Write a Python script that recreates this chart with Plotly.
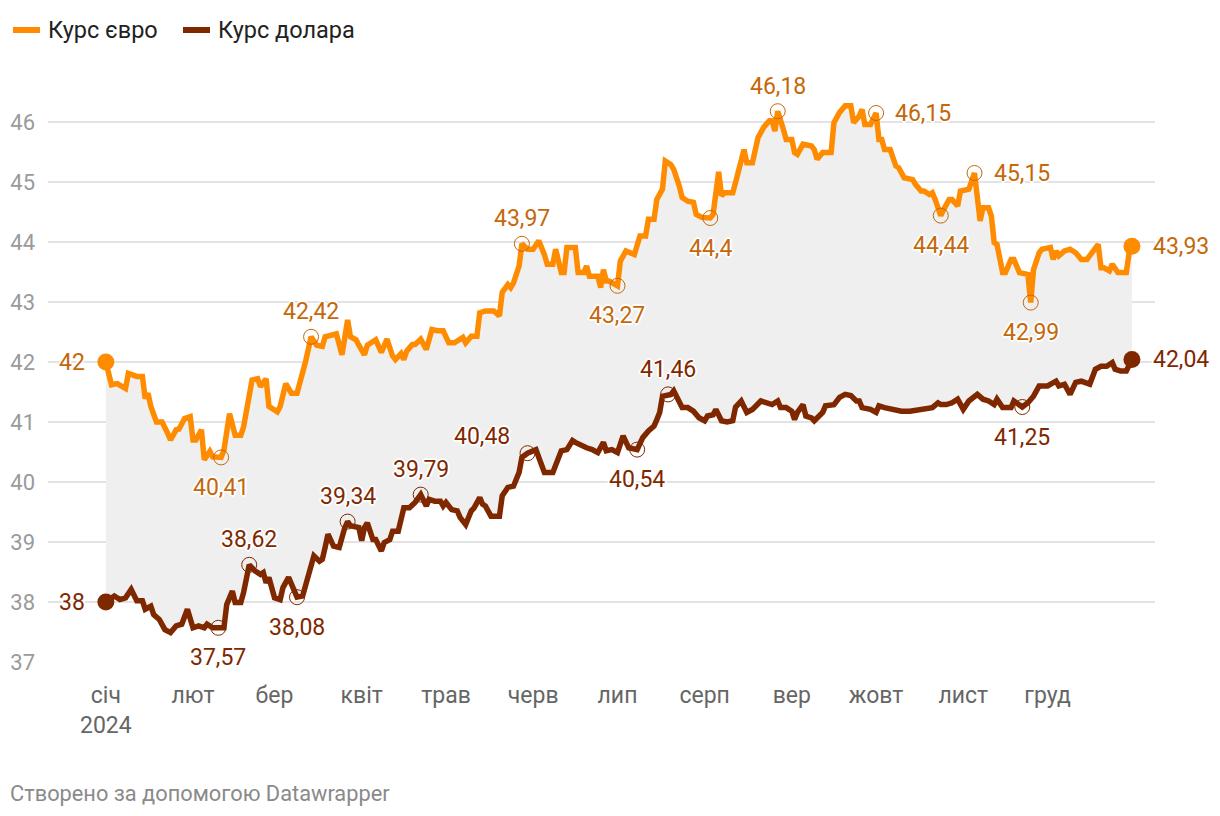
import plotly.graph_objects as go

# ---------------- data ----------------
euro_dates = [
    "2024-01-01", "2024-01-03", "2024-01-05", "2024-01-08", "2024-01-09", "2024-01-12", "2024-01-14",
    "2024-01-15", "2024-01-16", "2024-01-17", "2024-01-19", "2024-01-21", "2024-01-23", "2024-01-24",
    "2024-01-26", "2024-01-27", "2024-01-29", "2024-01-31", "2024-02-01", "2024-02-02", "2024-02-04",
    "2024-02-05", "2024-02-07", "2024-02-08", "2024-02-11", "2024-02-12", "2024-02-14", "2024-02-16",
    "2024-02-18", "2024-02-19", "2024-02-22", "2024-02-24", "2024-02-25", "2024-02-27", "2024-02-28",
    "2024-03-02", "2024-03-03", "2024-03-05", "2024-03-07", "2024-03-09", "2024-03-12", "2024-03-14",
    "2024-03-16", "2024-03-18", "2024-03-19", "2024-03-22", "2024-03-23", "2024-03-25", "2024-03-26",
    "2024-03-27", "2024-03-28", "2024-03-30", "2024-03-31", "2024-04-02", "2024-04-03", "2024-04-06",
    "2024-04-08", "2024-04-10", "2024-04-12", "2024-04-13", "2024-04-15", "2024-04-16", "2024-04-17",
    "2024-04-19", "2024-04-20", "2024-04-22", "2024-04-24", "2024-04-26", "2024-04-28", "2024-04-30",
    "2024-05-02", "2024-05-04", "2024-05-05", "2024-05-07", "2024-05-08", "2024-05-10", "2024-05-12",
    "2024-05-13", "2024-05-15", "2024-05-17", "2024-05-18", "2024-05-20", "2024-05-21", "2024-05-23",
    "2024-05-24", "2024-05-25", "2024-05-27", "2024-05-28", "2024-05-30", "2024-06-01", "2024-06-03",
    "2024-06-05", "2024-06-06", "2024-06-08", "2024-06-09", "2024-06-11", "2024-06-12", "2024-06-13",
    "2024-06-16", "2024-06-17", "2024-06-19", "2024-06-20", "2024-06-21", "2024-06-24", "2024-06-25",
    "2024-06-26", "2024-06-27", "2024-06-28", "2024-07-01", "2024-07-02", "2024-07-03", "2024-07-04",
    "2024-07-07", "2024-07-08", "2024-07-09", "2024-07-11", "2024-07-12", "2024-07-14", "2024-07-15",
    "2024-07-17", "2024-07-18", "2024-07-20", "2024-07-21", "2024-07-23", "2024-07-24", "2024-07-26",
    "2024-07-28", "2024-07-29", "2024-07-31", "2024-08-03", "2024-08-04", "2024-08-06", "2024-08-07",
    "2024-08-08", "2024-08-11", "2024-08-12", "2024-08-13", "2024-08-15", "2024-08-16", "2024-08-18",
    "2024-08-20", "2024-08-22", "2024-08-24", "2024-08-25", "2024-08-26", "2024-08-27", "2024-08-29",
    "2024-08-30", "2024-09-01", "2024-09-02", "2024-09-03", "2024-09-05", "2024-09-08", "2024-09-09",
    "2024-09-10", "2024-09-12", "2024-09-15", "2024-09-16", "2024-09-18", "2024-09-20", "2024-09-22",
    "2024-09-23", "2024-09-25", "2024-09-26", "2024-09-27", "2024-09-29", "2024-10-01", "2024-10-02",
    "2024-10-03", "2024-10-04", "2024-10-06", "2024-10-08", "2024-10-09", "2024-10-11", "2024-10-14",
    "2024-10-15", "2024-10-17", "2024-10-18", "2024-10-20", "2024-10-21", "2024-10-22", "2024-10-24",
    "2024-10-25", "2024-10-27", "2024-10-28", "2024-10-30", "2024-10-31", "2024-11-03", "2024-11-04",
    "2024-11-05", "2024-11-07", "2024-11-08", "2024-11-10", "2024-11-11", "2024-11-12", "2024-11-13",
    "2024-11-15", "2024-11-16", "2024-11-18", "2024-11-19", "2024-11-21", "2024-11-23", "2024-11-24",
    "2024-11-25", "2024-11-26", "2024-11-28", "2024-11-29", "2024-12-02", "2024-12-03", "2024-12-04",
    "2024-12-05", "2024-12-07", "2024-12-09", "2024-12-11", "2024-12-13", "2024-12-15", "2024-12-17",
    "2024-12-19", "2024-12-20", "2024-12-21", "2024-12-23", "2024-12-24", "2024-12-26", "2024-12-29",
    "2024-12-30", "2024-12-31",
]
euro_values = [
    42.00, 41.62, 41.64, 41.56, 41.81, 41.76, 41.76,
    41.39, 41.48, 41.26, 41.00, 41.00, 40.81, 40.70,
    40.87, 40.88, 41.06, 41.09, 40.70, 40.70, 40.87,
    40.37, 40.51, 40.42, 40.41, 40.53, 41.14, 40.78,
    40.78, 40.92, 41.70, 41.72, 41.59, 41.72, 41.26,
    41.17, 41.26, 41.64, 41.48, 41.48, 42.00, 42.42,
    42.28, 42.26, 42.42, 42.45, 42.47, 42.12, 42.40,
    42.70, 42.42, 42.37, 42.28, 42.12, 42.28, 42.37,
    42.16, 42.38, 42.10, 42.04, 42.14, 42.04, 42.18,
    42.29, 42.29, 42.38, 42.21, 42.54, 42.52, 42.52,
    42.32, 42.32, 42.35, 42.41, 42.32, 42.43, 42.43,
    42.82, 42.85, 42.85, 42.85, 42.77, 43.16, 43.29,
    43.24, 43.32, 43.60, 43.97, 43.88, 43.88, 44.02,
    43.79, 43.63, 43.63, 43.88, 43.49, 43.49, 43.91,
    43.91, 43.49, 43.49, 43.60, 43.43, 43.43, 43.24,
    43.54, 43.35, 43.35, 43.27, 43.68, 43.77, 43.85,
    43.79, 43.93, 44.10, 44.10, 44.38, 44.38, 44.71,
    44.88, 45.35, 45.29, 45.21, 44.93, 44.74, 44.68,
    44.66, 44.46, 44.41, 44.40, 44.46, 45.17, 44.77,
    44.82, 44.82, 44.99, 45.18, 45.54, 45.32, 45.32,
    45.74, 45.91, 46.02, 46.02, 45.85, 46.18, 45.88,
    45.71, 45.71, 45.49, 45.46, 45.63, 45.60, 45.54,
    45.38, 45.49, 45.49, 45.99, 46.16, 46.27, 46.27,
    45.99, 46.10, 46.21, 45.96, 45.96, 46.15, 45.71,
    45.71, 45.54, 45.54, 45.27, 45.24, 45.07, 45.04,
    44.96, 44.85, 44.85, 44.79, 44.82, 44.71, 44.44,
    44.54, 44.71, 44.71, 44.60, 44.85, 44.88, 45.02,
    45.15, 44.35, 44.57, 44.57, 44.43, 43.99, 43.96,
    43.49, 43.49, 43.71, 43.71, 43.49, 43.46, 43.46,
    42.99, 43.54, 43.82, 43.88, 43.91, 43.71, 43.85,
    43.77, 43.85, 43.88, 43.82, 43.71, 43.71, 43.82,
    43.96, 43.57, 43.57, 43.52, 43.63, 43.49, 43.49,
    43.82, 43.93,
]

usd_dates = [
    "2024-01-01", "2024-01-04", "2024-01-06", "2024-01-08", "2024-01-10", "2024-01-12", "2024-01-14",
    "2024-01-15", "2024-01-17", "2024-01-18", "2024-01-20", "2024-01-22", "2024-01-24", "2024-01-26",
    "2024-01-28", "2024-01-29", "2024-01-30", "2024-02-01", "2024-02-03", "2024-02-05", "2024-02-06",
    "2024-02-08", "2024-02-10", "2024-02-12", "2024-02-13", "2024-02-15", "2024-02-16", "2024-02-18",
    "2024-02-19", "2024-02-21", "2024-02-23", "2024-02-25", "2024-02-26", "2024-02-27", "2024-02-28",
    "2024-03-01", "2024-03-03", "2024-03-04", "2024-03-06", "2024-03-08", "2024-03-09", "2024-03-11",
    "2024-03-13", "2024-03-15", "2024-03-17", "2024-03-18", "2024-03-19", "2024-03-20", "2024-03-22",
    "2024-03-24", "2024-03-26", "2024-03-27", "2024-03-28", "2024-03-31", "2024-04-01", "2024-04-02",
    "2024-04-03", "2024-04-05", "2024-04-06", "2024-04-08", "2024-04-09", "2024-04-11", "2024-04-12",
    "2024-04-14", "2024-04-16", "2024-04-18", "2024-04-20", "2024-04-22", "2024-04-24", "2024-04-25",
    "2024-04-27", "2024-04-29", "2024-04-30", "2024-05-01", "2024-05-03", "2024-05-05", "2024-05-06",
    "2024-05-08", "2024-05-10", "2024-05-11", "2024-05-13", "2024-05-14", "2024-05-15", "2024-05-17",
    "2024-05-20", "2024-05-21", "2024-05-23", "2024-05-25", "2024-05-27", "2024-05-28", "2024-05-30",
    "2024-06-02", "2024-06-03", "2024-06-05", "2024-06-08", "2024-06-09", "2024-06-11", "2024-06-13",
    "2024-06-15", "2024-06-16", "2024-06-18", "2024-06-20", "2024-06-22", "2024-06-24", "2024-06-26",
    "2024-06-27", "2024-06-29", "2024-07-01", "2024-07-03", "2024-07-04", "2024-07-05", "2024-07-08",
    "2024-07-09", "2024-07-10", "2024-07-12", "2024-07-14", "2024-07-15", "2024-07-16", "2024-07-17",
    "2024-07-19", "2024-07-20", "2024-07-21", "2024-07-23", "2024-07-24", "2024-07-26", "2024-07-28",
    "2024-07-30", "2024-08-01", "2024-08-02", "2024-08-04", "2024-08-05", "2024-08-06", "2024-08-07",
    "2024-08-09", "2024-08-11", "2024-08-12", "2024-08-14", "2024-08-16", "2024-08-18", "2024-08-21",
    "2024-08-23", "2024-08-25", "2024-08-27", "2024-08-28", "2024-08-30", "2024-09-01", "2024-09-02",
    "2024-09-03", "2024-09-05", "2024-09-06", "2024-09-08", "2024-09-09", "2024-09-12", "2024-09-13",
    "2024-09-16", "2024-09-18", "2024-09-20", "2024-09-22", "2024-09-24", "2024-09-25", "2024-09-26",
    "2024-09-29", "2024-10-01", "2024-10-02", "2024-10-04", "2024-10-07", "2024-10-10", "2024-10-13",
    "2024-10-17", "2024-10-19", "2024-10-21", "2024-10-23", "2024-10-24", "2024-10-26", "2024-10-28",
    "2024-10-30", "2024-11-01", "2024-11-03", "2024-11-06", "2024-11-08", "2024-11-10", "2024-11-12",
    "2024-11-13", "2024-11-15", "2024-11-18", "2024-11-19", "2024-11-21", "2024-11-22", "2024-11-24",
    "2024-11-26", "2024-11-28", "2024-12-01", "2024-12-04", "2024-12-05", "2024-12-07", "2024-12-09",
    "2024-12-11", "2024-12-13", "2024-12-16", "2024-12-17", "2024-12-18", "2024-12-20", "2024-12-22",
    "2024-12-24", "2024-12-25", "2024-12-27", "2024-12-29", "2024-12-31",
]
usd_values = [
    38.00, 38.10, 38.04, 38.07, 38.21, 38.02, 38.02,
    37.88, 37.93, 37.79, 37.71, 37.54, 37.49, 37.60,
    37.63, 37.74, 37.88, 37.57, 37.60, 37.57, 37.63,
    37.57, 37.57, 37.57, 37.96, 38.18, 37.99, 37.99,
    38.16, 38.62, 38.52, 38.46, 38.49, 38.32, 38.41,
    38.07, 38.04, 38.24, 38.41, 38.16, 38.08, 38.10,
    38.43, 38.77, 38.68, 38.71, 38.91, 39.13, 38.93,
    38.91, 39.24, 39.34, 39.27, 39.24, 39.02, 39.24,
    39.32, 39.04, 39.04, 38.85, 38.99, 39.04, 39.18,
    39.18, 39.57, 39.57, 39.66, 39.79, 39.60, 39.71,
    39.68, 39.68, 39.60, 39.66, 39.54, 39.52, 39.41,
    39.29, 39.52, 39.57, 39.74, 39.63, 39.60, 39.43,
    39.43, 39.77, 39.91, 39.93, 40.16, 40.41, 40.48,
    40.54, 40.41, 40.16, 40.16, 40.29, 40.52, 40.54,
    40.69, 40.66, 40.61, 40.57, 40.54, 40.49, 40.66,
    40.52, 40.54, 40.49, 40.77, 40.66, 40.57, 40.54,
    40.66, 40.74, 40.85, 40.93, 41.04, 41.16, 41.43,
    41.46, 41.46, 41.52, 41.32, 41.24, 41.24, 41.18,
    41.07, 41.02, 41.10, 41.12, 41.21, 41.12, 41.02,
    41.00, 41.02, 41.25, 41.35, 41.16, 41.21, 41.35,
    41.32, 41.29, 41.35, 41.24, 41.24, 41.18, 41.04,
    41.16, 41.29, 41.10, 41.07, 41.02, 41.16, 41.27,
    41.29, 41.41, 41.46, 41.44, 41.35, 41.35, 41.24,
    41.21, 41.16, 41.27, 41.24, 41.21, 41.18, 41.18,
    41.21, 41.24, 41.24, 41.32, 41.29, 41.29, 41.32,
    41.38, 41.21, 41.35, 41.46, 41.38, 41.35, 41.29,
    41.38, 41.24, 41.24, 41.35, 41.27, 41.25, 41.32,
    41.43, 41.60, 41.60, 41.68, 41.60, 41.63, 41.46,
    41.66, 41.68, 41.63, 41.74, 41.88, 41.93, 41.93,
    41.99, 41.88, 41.85, 41.85, 42.04,
]

# highlighted points (date, label placement)
euro_marks = [
    ("2024-02-11", "below"), ("2024-03-14", "above"), ("2024-05-28", "above"),
    ("2024-07-01", "below"), ("2024-08-03", "below"), ("2024-08-27", "above"),
    ("2024-10-01", "right"), ("2024-10-24", "below"), ("2024-11-05", "right"),
    ("2024-11-25", "below"),
]
usd_marks = [
    ("2024-02-10", "below"), ("2024-02-21", "above"), ("2024-03-09", "below"),
    ("2024-03-27", "above"), ("2024-04-22", "above"), ("2024-05-30", "upleft"),
    ("2024-07-08", "below"), ("2024-07-19", "above"), ("2024-11-22", "below"),
]

month_ticks = ["2024-01-01", "2024-02-01", "2024-03-01", "2024-04-01", "2024-05-01", "2024-06-01",
               "2024-07-01", "2024-08-01", "2024-09-01", "2024-10-01", "2024-11-01", "2024-12-01"]
month_labels = ["січ<br>2024", "лют", "бер", "квіт", "трав", "черв", "лип", "серп", "вер",
                "жовт", "лист", "груд"]
y_ticks = [37, 38, 39, 40, 41, 42, 43, 44, 45, 46]

series_names = ["Курс євро", "Курс долара"]

# ---------------- styles ----------------
EURO = "#ff8c00"
EURO_TXT = "#c4680a"
USD = "#7f2800"
USD_TXT = "#7f2800"
FONT = "Roboto"

OFF = 8                      # page body margin of the html page
W, H = 1220 - OFF, 816 - OFF
L = 48 - OFF                 # plot area left edge (page px 48)
T = 92 - OFF                 # plot area top (page px 92)
B = H - (662 - OFF)          # plot area bottom at page px 662
R = W - (1155 - OFF)         # plot area right at page px 1155
PW, PH = W - L - R, H - T - B


def px(xp):
    return (xp - OFF - L) / PW


def py(yp):
    return (H - B - (yp - OFF)) / PH


def fmt(v):
    s = f"{v:.2f}".rstrip("0").rstrip(".")
    return s.replace(".", ",")


HALO = ("2px 0 0 #fff, -2px 0 0 #fff, 0 2px 0 #fff, 0 -2px 0 #fff, "
        "1px 1px 0 #fff, -1px -1px 0 #fff, 1px -1px 0 #fff, -1px 1px 0 #fff")

fig = go.Figure()

# fill between the two series
fig.add_trace(go.Scatter(x=usd_dates, y=usd_values, mode="lines", line=dict(width=0, color=USD),
                         hoverinfo="skip", showlegend=False))
fig.add_trace(go.Scatter(x=euro_dates, y=euro_values, mode="lines", line=dict(width=0, color=EURO),
                         fill="tonexty", fillcolor="#efefef", hoverinfo="skip", showlegend=False))

# lines
fig.add_trace(go.Scatter(x=euro_dates, y=euro_values, mode="lines", name=series_names[0],
                         line=dict(color=EURO, width=5.5, shape="linear"), showlegend=False))
fig.add_trace(go.Scatter(x=usd_dates, y=usd_values, mode="lines", name=series_names[1],
                         line=dict(color=USD, width=5.5, shape="linear"), showlegend=False))

annotations = []


def add_marks(dates, values, marks, color, txtcolor):
    lookup = dict(zip(dates, values))
    mx = [d for d, _ in marks]
    my = [lookup[d] for d in mx]
    fig.add_trace(go.Scatter(x=mx, y=my, mode="markers", showlegend=False, hoverinfo="skip",
                             marker=dict(symbol="circle-open", size=15,
                                         line=dict(width=1, color=txtcolor), color=txtcolor)))
    for (d, pos), v in zip(marks, my):
        a = dict(x=d, y=v, xref="x", yref="y", text=fmt(v), showarrow=False,
                 font=dict(family=FONT, size=23, color=txtcolor, shadow=HALO))
        if pos == "above":
            a.update(yshift=25, yanchor="middle", xanchor="center")
        elif pos == "below":
            a.update(yshift=-30, yanchor="middle", xanchor="center")
        elif pos == "right":
            a.update(xshift=17, yanchor="middle", xanchor="left")
        elif pos == "upleft":
            a.update(xshift=-46, yshift=17, yanchor="middle", xanchor="center")
        annotations.append(a)
    # start / end dots
    fig.add_trace(go.Scatter(x=[dates[0], dates[-1]], y=[values[0], values[-1]], mode="markers",
                             showlegend=False, hoverinfo="skip",
                             marker=dict(size=17, color=color)))
    annotations.append(dict(x=dates[0], y=values[0], xref="x", yref="y", text=fmt(values[0]),
                            showarrow=False, xanchor="right", yanchor="middle", xshift=-19,
                            font=dict(family=FONT, size=23, color=txtcolor, shadow=HALO)))
    annotations.append(dict(x=dates[-1], y=values[-1], xref="x", yref="y", text=fmt(values[-1]),
                            showarrow=False, xanchor="left", yanchor="middle", xshift=19,
                            font=dict(family=FONT, size=23, color=txtcolor, shadow=HALO)))


add_marks(euro_dates, euro_values, euro_marks, EURO, EURO_TXT)
add_marks(usd_dates, usd_values, usd_marks, USD, USD_TXT)

# legend (manual)
shapes = [
    dict(type="line", xref="paper", yref="paper", x0=px(13), x1=px(40), y0=py(30), y1=py(30),
         line=dict(color=EURO, width=6), layer="above"),
    dict(type="line", xref="paper", yref="paper", x0=px(183), x1=px(210), y0=py(30), y1=py(30),
         line=dict(color=USD, width=6), layer="above"),
]
annotations.append(dict(xref="paper", yref="paper", x=px(46), y=py(30), text=series_names[0],
                        showarrow=False, xanchor="left", yanchor="middle",
                        font=dict(family=FONT, size=23.5, color="#222222")))
annotations.append(dict(xref="paper", yref="paper", x=px(216), y=py(30), text=series_names[1],
                        showarrow=False, xanchor="left", yanchor="middle",
                        font=dict(family=FONT, size=23.5, color="#222222")))
# footer
annotations.append(dict(xref="paper", yref="paper", x=px(8), y=py(793),
                        text="Створено за допомогою Datawrapper", showarrow=False,
                        xanchor="left", yanchor="middle",
                        font=dict(family=FONT, size=21.8, color="#8a8a8a")))

fig.update_layout(
    width=W, height=H,
    margin=dict(l=L, r=R, t=T, b=B, pad=0, autoexpand=False),
    plot_bgcolor="white", paper_bgcolor="white",
    font=dict(family=FONT),
    showlegend=False,
    shapes=shapes,
    annotations=annotations,
    xaxis=dict(
        type="date",
        range=["2023-12-11 10:00", "2025-01-08 05:00"],
        tickmode="array", tickvals=month_ticks, ticktext=month_labels,
        showgrid=False, zeroline=False, showline=False, ticks="",
        tickfont=dict(family=FONT, size=23, color="#666666"),
        ticklabelstandoff=17, automargin=False,
    ),
    yaxis=dict(
        range=[37, 46.5],
        tickmode="array", tickvals=y_ticks, ticktext=[str(v) for v in y_ticks],
        showgrid=True, gridcolor="#e3e3e3", gridwidth=2,
        zeroline=False, showline=False, ticks="",
        tickfont=dict(family=FONT, size=22, color="#9a9a9a"),
        ticklabelstandoff=12, automargin=False,
    ),
)

fig.write_html("out.html")
